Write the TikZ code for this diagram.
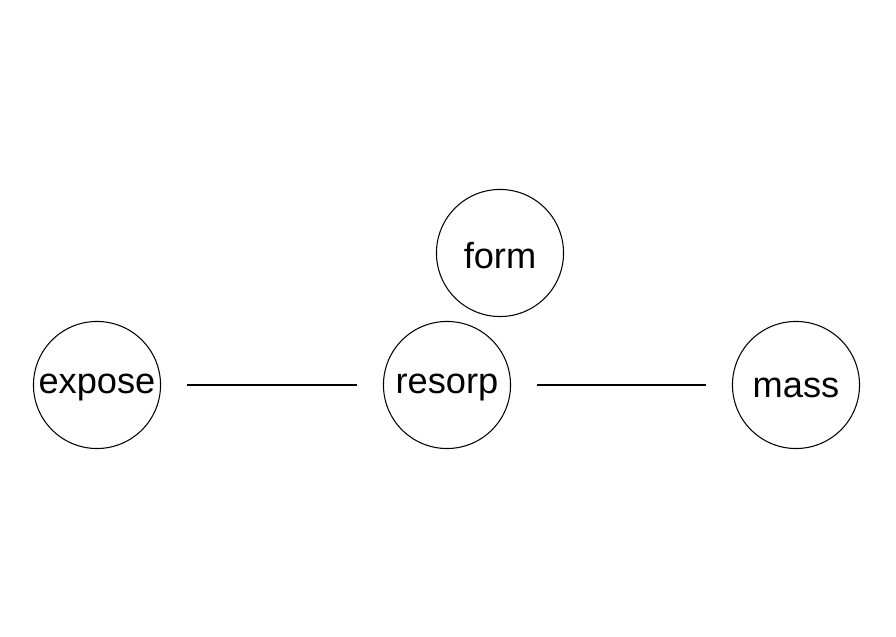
\documentclass[tikz,border=0pt]{standalone}
\usepackage{fontspec}
\setmainfont{Liberation Sans}
\usetikzlibrary{positioning}

\begin{document}
\begin{tikzpicture}[
  x=0.01cm, y=-0.01cm,
  var/.style={draw, circle, line width=0.3pt, minimum size=1.27cm, inner sep=0pt},
  varlabel/.style={font=\fontsize{10.3}{12}\selectfont, yshift=-0.85pt},
  link/.style={line width=0.3pt, shorten <=0.255cm, shorten >=0.255cm},
]
  % Page frame
  \useasboundingbox (0,0) rectangle (896,637);

  % Variables
  \node[var, label={[varlabel]center:expose}] (expose) at (97,385) {};
  \node[var, label={[varlabel]center:resorp}] (resorp) at (447,385) {};
  \node[var, label={[varlabel]center:form}] (form) at (500,253) {};
  \node[var, label={[varlabel]center:mass}] (mass) at (796,385) {};

  % Links
  \draw[link] (expose) -- (resorp);
  \draw[link] (resorp) -- (mass);

\end{tikzpicture}
\end{document}
